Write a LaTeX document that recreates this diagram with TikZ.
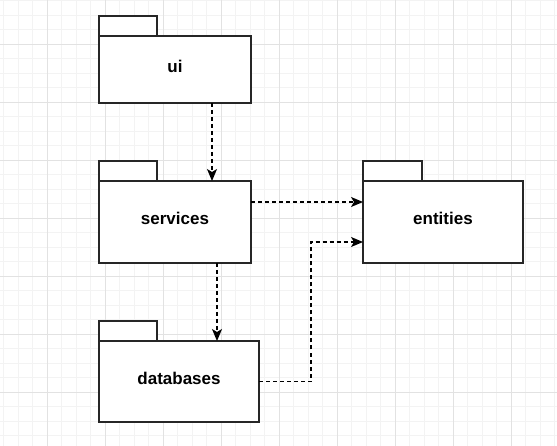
\documentclass[tikz,border=0pt]{standalone}
\usepackage{tikz}
\usetikzlibrary{arrows.meta,positioning}
\usepackage{fontspec}
\setmainfont{Liberation Sans}
\usepackage{xcolor}
\definecolor{gridminor}{HTML}{F3F3F3}
\definecolor{gridmajor}{HTML}{E2E2E2}

\begin{document}
\begin{tikzpicture}[x=1pt, y=-1pt,
    pkg/.style={draw=black!85, line width=1.3pt, fill=white, inner sep=0pt, outer sep=0pt,
        text height=10pt, text depth=4pt, font=\fontsize{17}{20}\selectfont\bfseries},
    pkgtab/.style={draw=black!85, line width=1.3pt, fill=white, inner sep=0pt, outer sep=0pt,
        minimum width=58pt, minimum height=20pt, anchor=south west},
    dep/.style={black, line width=1.2pt, dash pattern=on 4pt off 3pt,
        -{Stealth[length=12pt, width=10pt, inset=3pt]}}]

\useasboundingbox (0,0) rectangle (557,446);

%% grid
\foreach \k in {0,...,38}
    \draw[gridminor, line width=0.8pt] (3.8+14.5*\k,0) -- (3.8+14.5*\k,446);
\foreach \k in {0,...,30}
    \draw[gridminor, line width=0.8pt] (0,0.5+14.5*\k) -- (557,0.5+14.5*\k);
\foreach \k in {0,...,8}
    \draw[gridmajor, line width=0.8pt] (47.3+58*\k,0) -- (47.3+58*\k,446);
\foreach \k in {0,...,6}
    \draw[gridmajor, line width=0.8pt] (0,44+58*\k) -- (557,44+58*\k);

%% packages
\node[pkg, minimum width=152pt, minimum height=67pt] (ui) at (175,69.5) {ui};
\node[pkgtab] (uitab) at (ui.north west) {};

\node[pkg, minimum width=152pt, minimum height=82pt] (svc) at (175,222) {services};
\node[pkgtab] (svctab) at (svc.north west) {};

\node[pkg, minimum width=160pt, minimum height=82pt] (ent) at (443,222) {entities};
\node[pkgtab, minimum width=59pt] (enttab) at (ent.north west) {};

\node[pkg, minimum width=160pt, minimum height=81pt] (db) at (179,381.5) {databases};
\node[pkgtab] (dbtab) at (db.north west) {};

%% dependencies
\draw[dep] ([xshift=37pt]ui.south) -- ([xshift=37pt]svc.north);
\draw[dep] ([yshift=20pt]svc.east) -- ([yshift=20pt]ent.west);
\draw[dep] ([xshift=42pt]svc.south) -- ([xshift=42pt]svc.south |- db.north);
\draw[dep] (db.east) -- ++(52,0) |- ([yshift=-20pt]ent.west);

\end{tikzpicture}
\end{document}
